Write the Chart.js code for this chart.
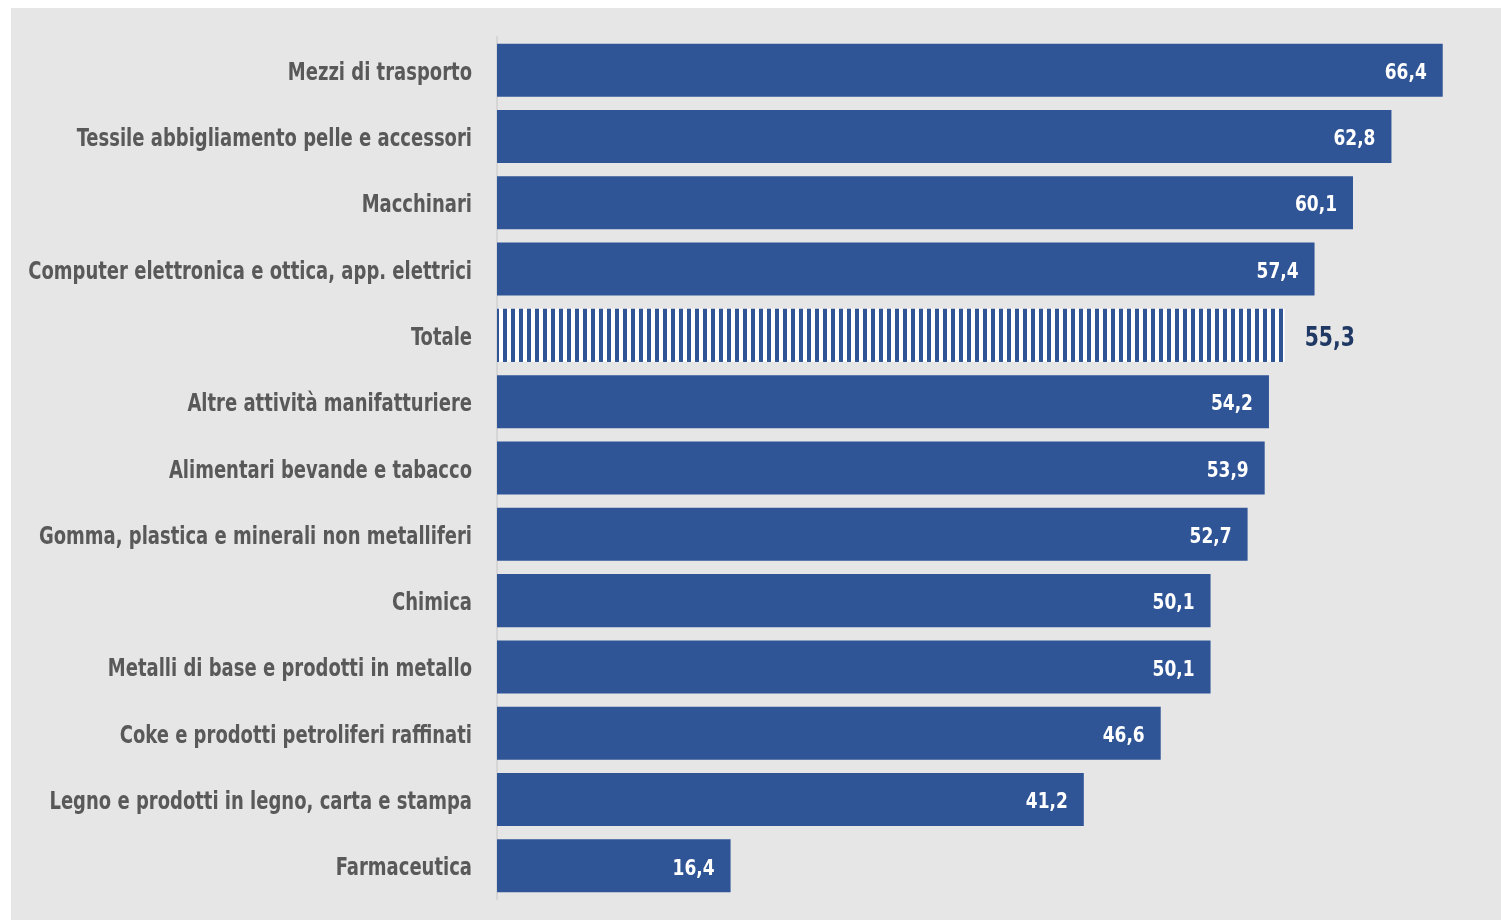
<!DOCTYPE html>
<html>
<head>
<meta charset="utf-8">
<script src="https://cdn.jsdelivr.net/npm/chart.js@4.4.1/dist/chart.umd.min.js"></script>
<style>
  html, body { margin: 0; padding: 0; background: #ffffff; }
  #wrap { position: absolute; left: 11px; top: 8px; width: 1490px; height: 912px; background: #e6e6e6; }
  canvas { display: block; }
</style>
</head>
<body>
<div id="wrap"><canvas id="c" width="1490" height="912"></canvas></div>
<script>
const categories = [
  "Mezzi di trasporto",
  "Tessile abbigliamento pelle e accessori",
  "Macchinari",
  "Computer elettronica e ottica, app. elettrici",
  "Totale",
  "Altre attività manifatturiere",
  "Alimentari bevande e tabacco",
  "Gomma, plastica e minerali non metalliferi",
  "Chimica",
  "Metalli di base e prodotti in metallo",
  "Coke e prodotti petroliferi raffinati",
  "Legno e prodotti in legno, carta e stampa",
  "Farmaceutica"
];
const values = [66.4, 62.8, 60.1, 57.4, 55.3, 54.2, 53.9, 52.7, 50.1, 50.1, 46.6, 41.2, 16.4];
const valueLabels = ["66,4", "62,8", "60,1", "57,4", "55,3", "54,2", "53,9", "52,7", "50,1", "50,1", "46,6", "41,2", "16,4"];
const totalCategory = "Totale";

const FONT = "'Liberation Sans Narrow', 'Arial Narrow', 'DejaVu Sans Condensed', sans-serif";
const BLUE = '#2f5597';

function stripePattern() {
  const p = document.createElement('canvas');
  p.width = 8; p.height = 8;
  const g = p.getContext('2d');
  g.fillStyle = '#ffffff';
  g.fillRect(0, 0, 8, 8);
  g.fillStyle = BLUE;
  g.fillRect(4, 0, 4, 8);
  return g.createPattern(p, 'repeat');
}

function drawNarrow(c, text, x, y, align, sx) {
  c.save();
  c.translate(x, y);
  c.scale(sx, 1);
  c.textAlign = align;
  c.fillText(text, 0, 0);
  c.restore();
}

const ctx = document.getElementById('c').getContext('2d');
const pattern = stripePattern();
const colors = categories.map(c => c === totalCategory ? pattern : BLUE);

const labelPlugin = {
  id: 'narrowLabels',
  afterDraw(chart) {
    const c = chart.ctx;
    c.save();
    c.textBaseline = 'middle';
    const ys = chart.scales.y;
    c.font = "bold 25px " + FONT;
    c.fillStyle = '#595959';
    ys.ticks.forEach((t, i) => {
      const y = ys.getPixelForTick(i);
      drawNarrow(c, ys.getLabelForValue(t.value), ys.right - 25, y + 3, 'right', 0.8);
    });
    const meta = chart.getDatasetMeta(0);
    meta.data.forEach((bar, i) => {
      if (categories[i] === totalCategory) {
        c.font = "bold 26px " + FONT;
        c.fillStyle = '#1f3864';
        drawNarrow(c, valueLabels[i], bar.x + 20, bar.y + 4, 'left', 0.87);
      } else {
        c.font = "bold 22px " + FONT;
        c.fillStyle = '#ffffff';
        drawNarrow(c, valueLabels[i], bar.x - 16, bar.y + 3, 'right', 0.86);
      }
    });
    c.restore();
  }
};

new Chart(ctx, {
  type: 'bar',
  data: {
    labels: categories,
    datasets: [{
      data: values,
      backgroundColor: colors,
      borderWidth: 0,
      categoryPercentage: 1,
      barPercentage: 0.8
    }]
  },
  options: {
    indexAxis: 'y',
    responsive: false,
    animation: false,
    devicePixelRatio: 1,
    layout: { padding: { left: 0, right: 7, top: 29, bottom: 21 } },
    plugins: { legend: { display: false }, tooltip: { enabled: false } },
    scales: {
      x: {
        display: false,
        min: 0,
        max: 70
      },
      y: {
        grid: { display: false, drawTicks: false },
        border: { display: true, color: '#d6d6d6', width: 2 },
        ticks: { display: false },
        afterFit(scale) { scale.width = 486; }
      }
    }
  },
  plugins: [labelPlugin]
});
</script>
</body>
</html>
